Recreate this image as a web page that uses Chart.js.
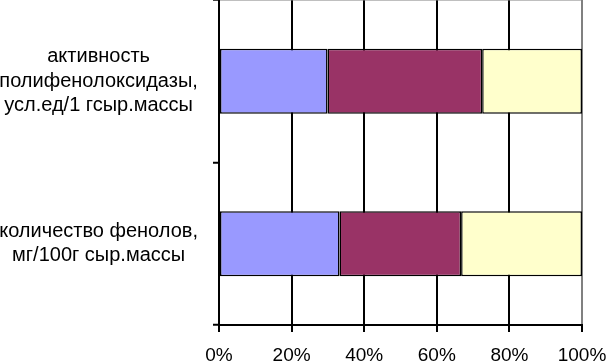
<!DOCTYPE html>
<html>
<head>
<meta charset="utf-8">
<script src="https://cdn.jsdelivr.net/npm/chart.js@4"></script>
<style>
  html, body { margin: 0; padding: 0; background: #fff; }
  #wrap { width: 607px; height: 362px; position: relative; }
</style>
</head>
<body>
<div id="wrap"><canvas id="chart"></canvas></div>
<script>
const categories = [
  ["активность", "полифенолоксидазы,", "усл.ед/1 гсыр.массы"],
  ["количество фенолов,", "мг/100г сыр.массы"]
];
// shares in percent
const series1 = [29.9, 33.2];
const series2 = [42.6, 33.5];
const series3 = [27.5, 33.3];
const xTicks = ["0%", "20%", "40%", "60%", "80%", "100%"];

const colors = ["#9999FF", "#993366", "#FFFFCC"];

const ds = (data, color) => ({
  data,
  backgroundColor: color,
  borderColor: "#000",
  borderWidth: 1.5,
  borderSkipped: false,
  barPercentage: 0.4,
  categoryPercentage: 1
});

new Chart(document.getElementById("chart"), {
  type: "bar",
  data: {
    labels: categories,
    datasets: [ds(series1, colors[0]), ds(series2, colors[1]), ds(series3, colors[2])]
  },
  options: {
    indexAxis: "y",
    responsive: true,
    maintainAspectRatio: false,
    animation: false,
    layout: { padding: 0 },
    plugins: { legend: { display: false }, tooltip: { enabled: false } },
    scales: {
      x: {
        stacked: true,
        min: 0,
        max: 100,
        ticks: {
          stepSize: 20,
          padding: 12,
          color: "#000",
          font: { family: "Arial, 'Liberation Sans'", size: 19 },
          callback: (v) => xTicks[Math.round(v / 20)],
          maxRotation: 0
        },
        grid: {
          color: (ctx) => ctx.index === 5 ? "#808080" : "#000",
          lineWidth: 2,
          tickLength: 7,
          tickColor: "#000",
          tickWidth: 2
        },
        border: { color: "#000", width: 2 },
        afterFit: (scale) => {
          scale.height = 37;
          scale.paddingLeft = 0;
          scale.paddingRight = 25;
        }
      },
      y: {
        stacked: true,
        ticks: {
          crossAlign: "center",
          padding: 15,
          color: "#000",
          font: { family: "Arial, 'Liberation Sans'", size: 20, lineHeight: 1.22 }
        },
        grid: {
          color: (ctx) => ctx.index === 0 ? "#808080" : "rgba(0,0,0,0)",
          lineWidth: 1.5,
          tickLength: 6,
          tickColor: "#000",
          tickWidth: 2
        },
        border: { color: "#000", width: 2 },
        afterFit: (scale) => {
          scale.width = 219;
          scale.paddingTop = 0;
          scale.paddingBottom = 0;
        }
      }
    }
  }
});
</script>
</body>
</html>
